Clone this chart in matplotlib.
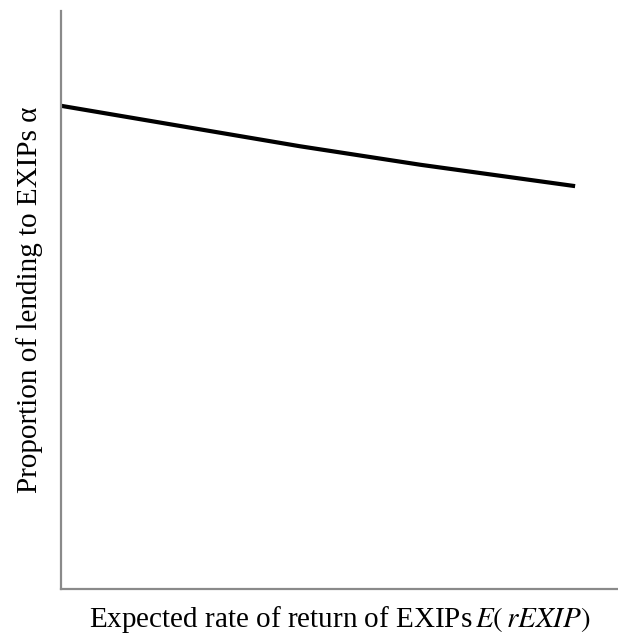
import matplotlib
matplotlib.use("Agg")
import matplotlib.pyplot as plt

plt.rcParams['font.family'] = ['Liberation Serif', 'DejaVu Serif']
plt.rcParams['mathtext.fontset'] = 'stix'

# Curve data (arbitrary units)
x_return = [0.0, 4.29, 6.45, 9.23]
alpha_prop = [8.36, 7.66, 7.34, 6.97]

xlabel_text = r'Expected rate of return of EXIPs$\,E(\,rEXIP)$'
ylabel_text = 'Proportion of lending to EXIPs α'

fig = plt.figure(figsize=(6.18, 6.40), dpi=100)
ax = fig.add_axes([61/618, 51/640, 1 - 61/618, 578/640])
ax.plot(x_return, alpha_prop, color='black', linewidth=3.0, solid_capstyle='butt')
ax.set_xlim(0, 10)
ax.set_ylim(0, 10)
ax.set_xticks([])
ax.set_yticks([])
for s in ['top', 'right']:
    ax.spines[s].set_visible(False)
for s in ['left', 'bottom']:
    ax.spines[s].set_color('#8a8a8a')
    ax.spines[s].set_linewidth(1.6)
ax.set_xlabel(xlabel_text, fontsize=21, labelpad=11)
ax.set_ylabel(ylabel_text, fontsize=21, labelpad=13)
fig.savefig('out.png', dpi=100, facecolor='white')
